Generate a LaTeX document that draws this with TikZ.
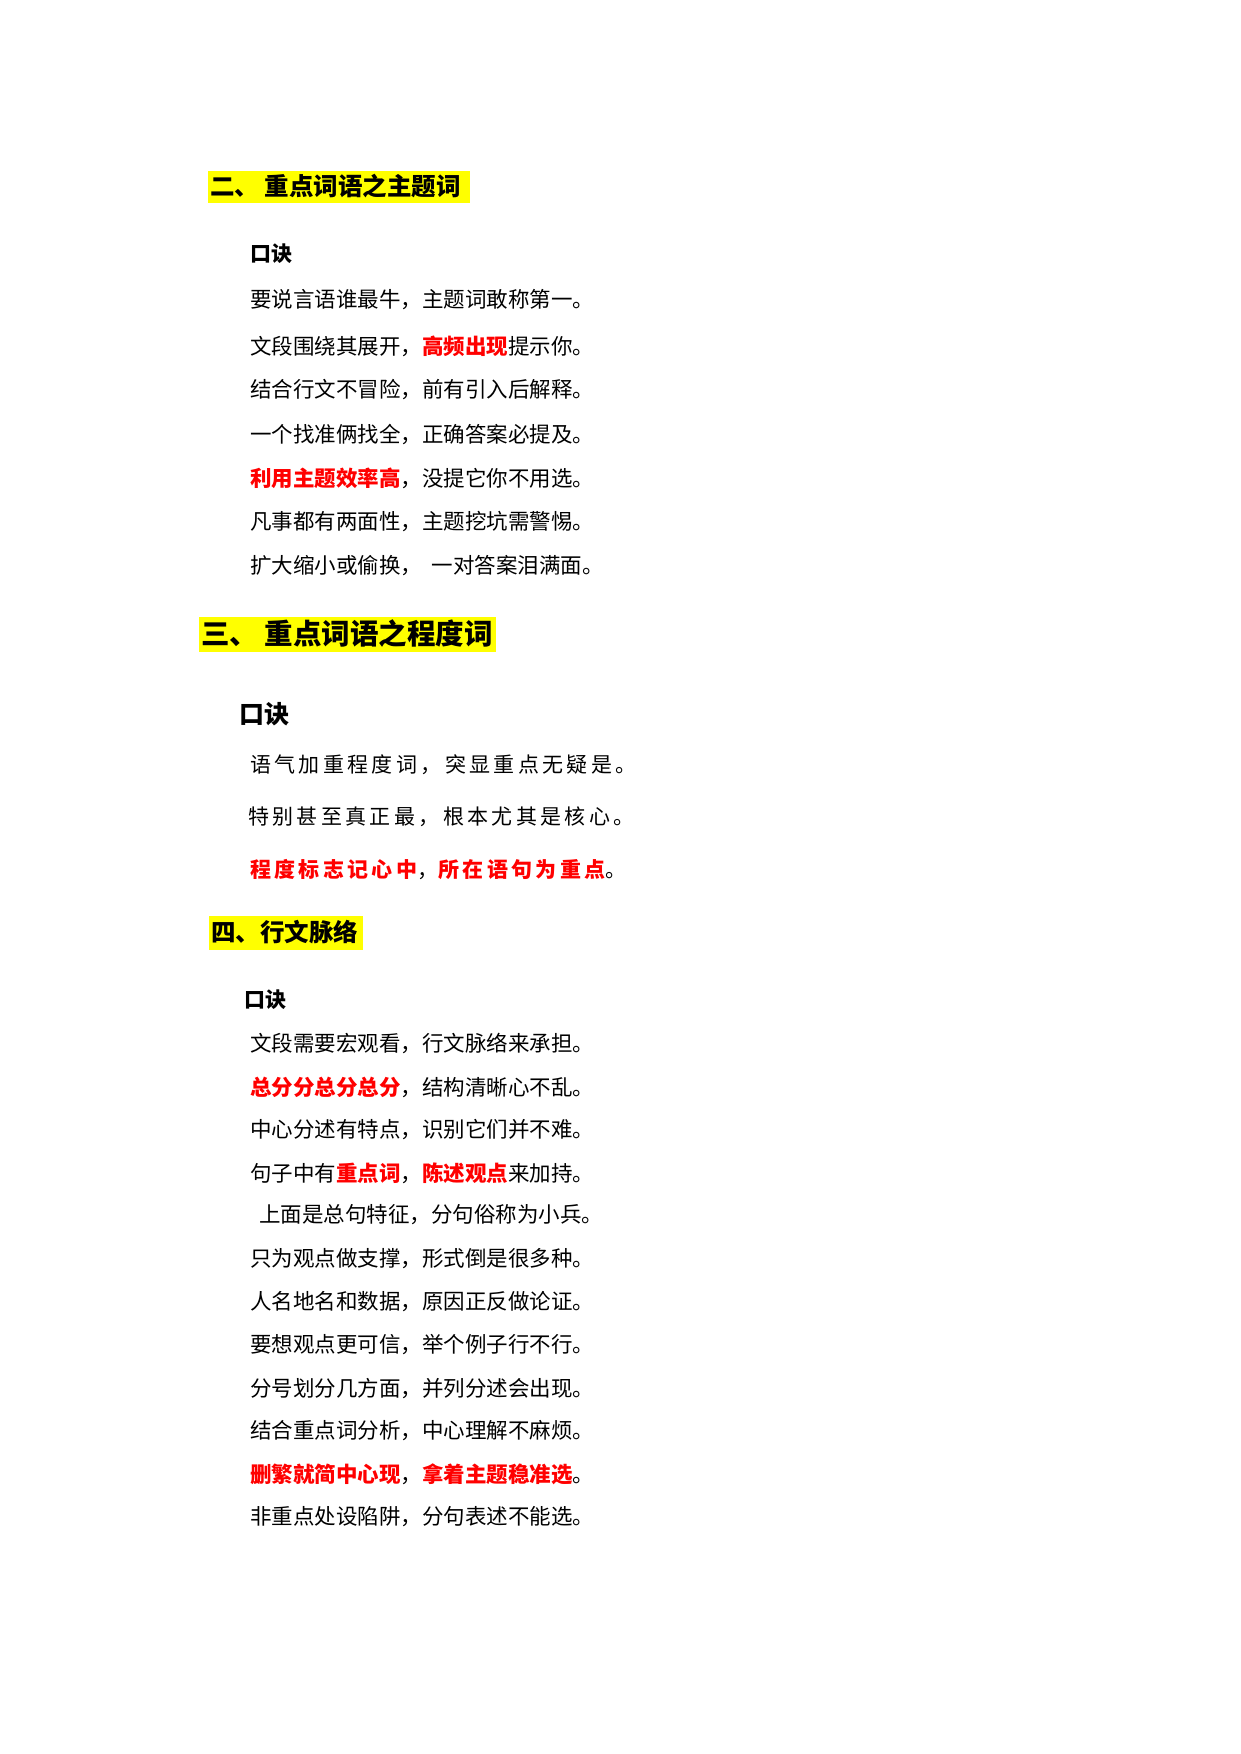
\documentclass[tikz,border=0pt]{standalone}
\usepackage{fontspec}
\newfontfamily\cjk{Noto Sans CJK SC}
\newfontfamily\cjksp{Noto Sans CJK SC}[LetterSpace=16,BoldFeatures={LetterSpace=16}]
\definecolor{hl}{RGB}{255,255,0}
\definecolor{rd}{RGB}{255,0,0}
\newcommand{\rb}[1]{\textcolor{rd}{\bfseries #1}}
\begin{document}
\begin{tikzpicture}[x=1pt,y=-1pt,
  head/.style={anchor=west,inner sep=0pt,font=\cjk\bfseries\fontsize{24.5}{28}\selectfont},
  sub/.style={anchor=west,inner sep=0pt,font=\cjk\bfseries\fontsize{21}{25}\selectfont},
  ln/.style={anchor=west,inner sep=0pt,font=\cjk\fontsize{21.5}{25}\selectfont},
  lnsp/.style={anchor=west,inner sep=0pt,font=\cjksp\fontsize{21}{25}\selectfont}]
\useasboundingbox (0,0) rectangle (1240,1754);
% Section 2
\fill[hl] (208,171) rectangle (470,203);
\node[head] (h1) at (210,186) {二、\ 重点词语之主题词};
\node[sub] (k1) at (250,254) {口诀};
\node[ln] (a1) at (250,300) {要说言语谁最牛，主题词敢称第一。};
\node[ln] (a2) at (250,346) {文段围绕其展开，\rb{高频出现}提示你。};
\node[ln] (a3) at (250,390) {结合行文不冒险，前有引入后解释。};
\node[ln] (a4) at (250,434) {一个找准俩找全，正确答案必提及。};
\node[ln] (a5) at (250,478) {\rb{利用主题效率高}，没提它你不用选。};
\node[ln] (a6) at (250,522) {凡事都有两面性，主题挖坑需警惕。};
\node[ln] (a7) at (250,566) {扩大缩小或偷换，\ \ 一对答案泪满面。};
% Section 3
\fill[hl] (199,617) rectangle (496,652);
\node[head,font=\cjk\bfseries\fontsize{28.5}{32}\selectfont] (h2) at (201,634) {三、\ 重点词语之程度词};
\node[sub,font=\cjk\bfseries\fontsize{25}{29}\selectfont] (k2) at (239,714) {口诀};
\node[lnsp] (b1) at (250,765) {语气加重程度词，突显重点无疑是。};
\node[lnsp] (b2) at (248,817) {特别甚至真正最，根本尤其是核心。};
\node[lnsp] (b3) at (250,870) {\rb{程度标志记心中}，\rb{所在语句为重点}。};
% Section 4
\fill[hl] (209,916) rectangle (363,950);
\node[head] (h3) at (211,932) {四、行文脉络};
\node[sub] (k3) at (244,1000) {口诀};
\node[ln] (c1) at (250,1043) {文段需要宏观看，行文脉络来承担。};
\node[ln] (c2) at (250,1087) {\rb{总分分总分总分}，结构清晰心不乱。};
\node[ln] (c3) at (250,1130) {中心分述有特点，识别它们并不难。};
\node[ln] (c4) at (250,1173) {句子中有\rb{重点词}，\rb{陈述观点}来加持。};
\node[ln] (c5) at (259,1215) {上面是总句特征，分句俗称为小兵。};
\node[ln] (c6) at (250,1259) {只为观点做支撑，形式倒是很多种。};
\node[ln] (c7) at (250,1302) {人名地名和数据，原因正反做论证。};
\node[ln] (c8) at (250,1345) {要想观点更可信，举个例子行不行。};
\node[ln] (c9) at (250,1389) {分号划分几方面，并列分述会出现。};
\node[ln] (c10) at (250,1431) {结合重点词分析，中心理解不麻烦。};
\node[ln] (c11) at (250,1474) {\rb{删繁就简中心现}，\rb{拿着主题稳准选}。};
\node[ln] (c12) at (250,1517) {非重点处设陷阱，分句表述不能选。};
\end{tikzpicture}
\end{document}
